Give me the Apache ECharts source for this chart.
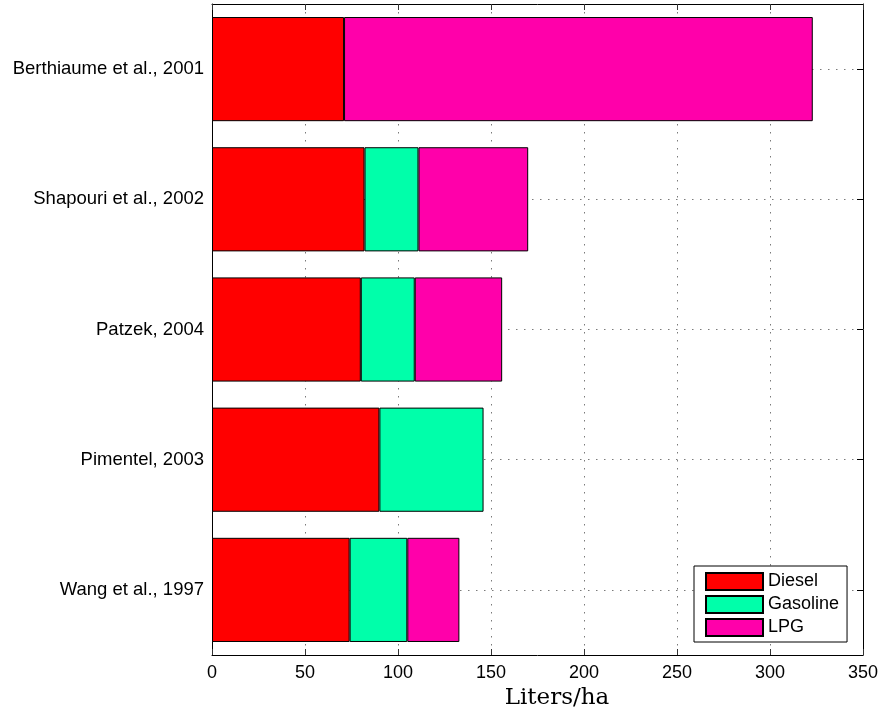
<!DOCTYPE html>
<html>
<head>
<meta charset="utf-8">
<script src="https://cdn.jsdelivr.net/npm/echarts@6/dist/echarts.min.js"></script>
<style>html,body{margin:0;padding:0;background:#fff}#c{width:882px;height:717px}</style>
</head>
<body>
<div id="c"></div>
<script>
const categories = ['Berthiaume et al., 2001', 'Shapouri et al., 2002', 'Patzek, 2004', 'Pimentel, 2003', 'Wang et al., 1997'];
const diesel = [71, 82, 80, 90, 74];
const gasoline = [null, 29, 29, 56, 31];
const lpg = [252, 59, 47, null, 28];
const seriesNames = ['Diesel', 'Gasoline', 'LPG'];
const xTicks = { min: 0, max: 350, interval: 50 };
const xTitle = 'Liters/ha';

const colors = ['#FF0000', '#00FFAA', '#FF00AA'];
const font = 'Liberation Sans, Arial, Helvetica, sans-serif';
const dotted = { color: '#7a7a7a', width: 1, type: [1.5, 6.5] };
const inTick = (c) => ({ show: true, inside: true, length: 6, lineStyle: { color: c, width: 1 } });

const chart = echarts.init(document.getElementById('c'), null, { renderer: 'canvas' });
const values = [diesel, gasoline, lpg];

chart.setOption({
  animation: false,
  backgroundColor: '#ffffff',
  grid: { left: 212, right: 19, top: 4, bottom: 62, containLabel: false },
  legend: {
    orient: 'vertical',
    left: 694, top: 566,
    padding: [6, 8, 5, 11],
    itemWidth: 57, itemHeight: 17, itemGap: 4,
    backgroundColor: '#ffffff',
    borderColor: '#000000', borderWidth: 1,
    icon: 'rect',
    textStyle: { fontFamily: font, fontSize: 18, color: '#000' },
    data: seriesNames
  },
  xAxis: [{
    type: 'value', position: 'bottom',
    min: xTicks.min, max: xTicks.max, interval: xTicks.interval,
    name: xTitle, nameLocation: 'middle', nameGap: 28,
    nameTextStyle: { fontFamily: 'DejaVu Serif, serif', fontSize: 23, color: '#000', padding: [0, 0, 0, 39] },
    axisLine: { show: true, onZero: false, lineStyle: { color: '#000', width: 1 } },
    axisTick: inTick('#333'),
    axisLabel: { fontFamily: font, fontSize: 18, color: '#000', margin: 9 },
    splitLine: { show: true, showMinLine: false, showMaxLine: false, lineStyle: dotted }
  }, {
    type: 'value', position: 'top',
    min: xTicks.min, max: xTicks.max, interval: xTicks.interval,
    axisLine: { show: true, onZero: false, lineStyle: { color: '#000', width: 1 } },
    axisTick: inTick('#333'),
    axisLabel: { show: false },
    splitLine: { show: false }
  }],
  yAxis: [{
    type: 'category', position: 'left', inverse: true,
    data: categories,
    axisLine: { show: true, onZero: false, lineStyle: { color: '#000', width: 1 } },
    axisTick: Object.assign(inTick('#000'), { alignWithLabel: true }),
    axisLabel: { fontFamily: font, fontSize: 18.5, color: '#000', margin: 8 },
    splitLine: { show: true, alignWithLabel: true, lineStyle: dotted }
  }, {
    type: 'category', position: 'right', inverse: true,
    data: categories,
    axisLine: { show: true, onZero: false, lineStyle: { color: '#000', width: 1 } },
    axisTick: Object.assign(inTick('#000'), { alignWithLabel: true }),
    axisLabel: { show: false },
    splitLine: { show: false }
  }],
  series: seriesNames.map((name, i) => ({
    name: name,
    type: 'bar',
    stack: 'total',
    barWidth: '80%',
    xAxisIndex: 0, yAxisIndex: 0,
    itemStyle: { color: colors[i], borderColor: '#000', borderWidth: 1 },
    data: values[i]
  }))
});
</script>
</body>
</html>
